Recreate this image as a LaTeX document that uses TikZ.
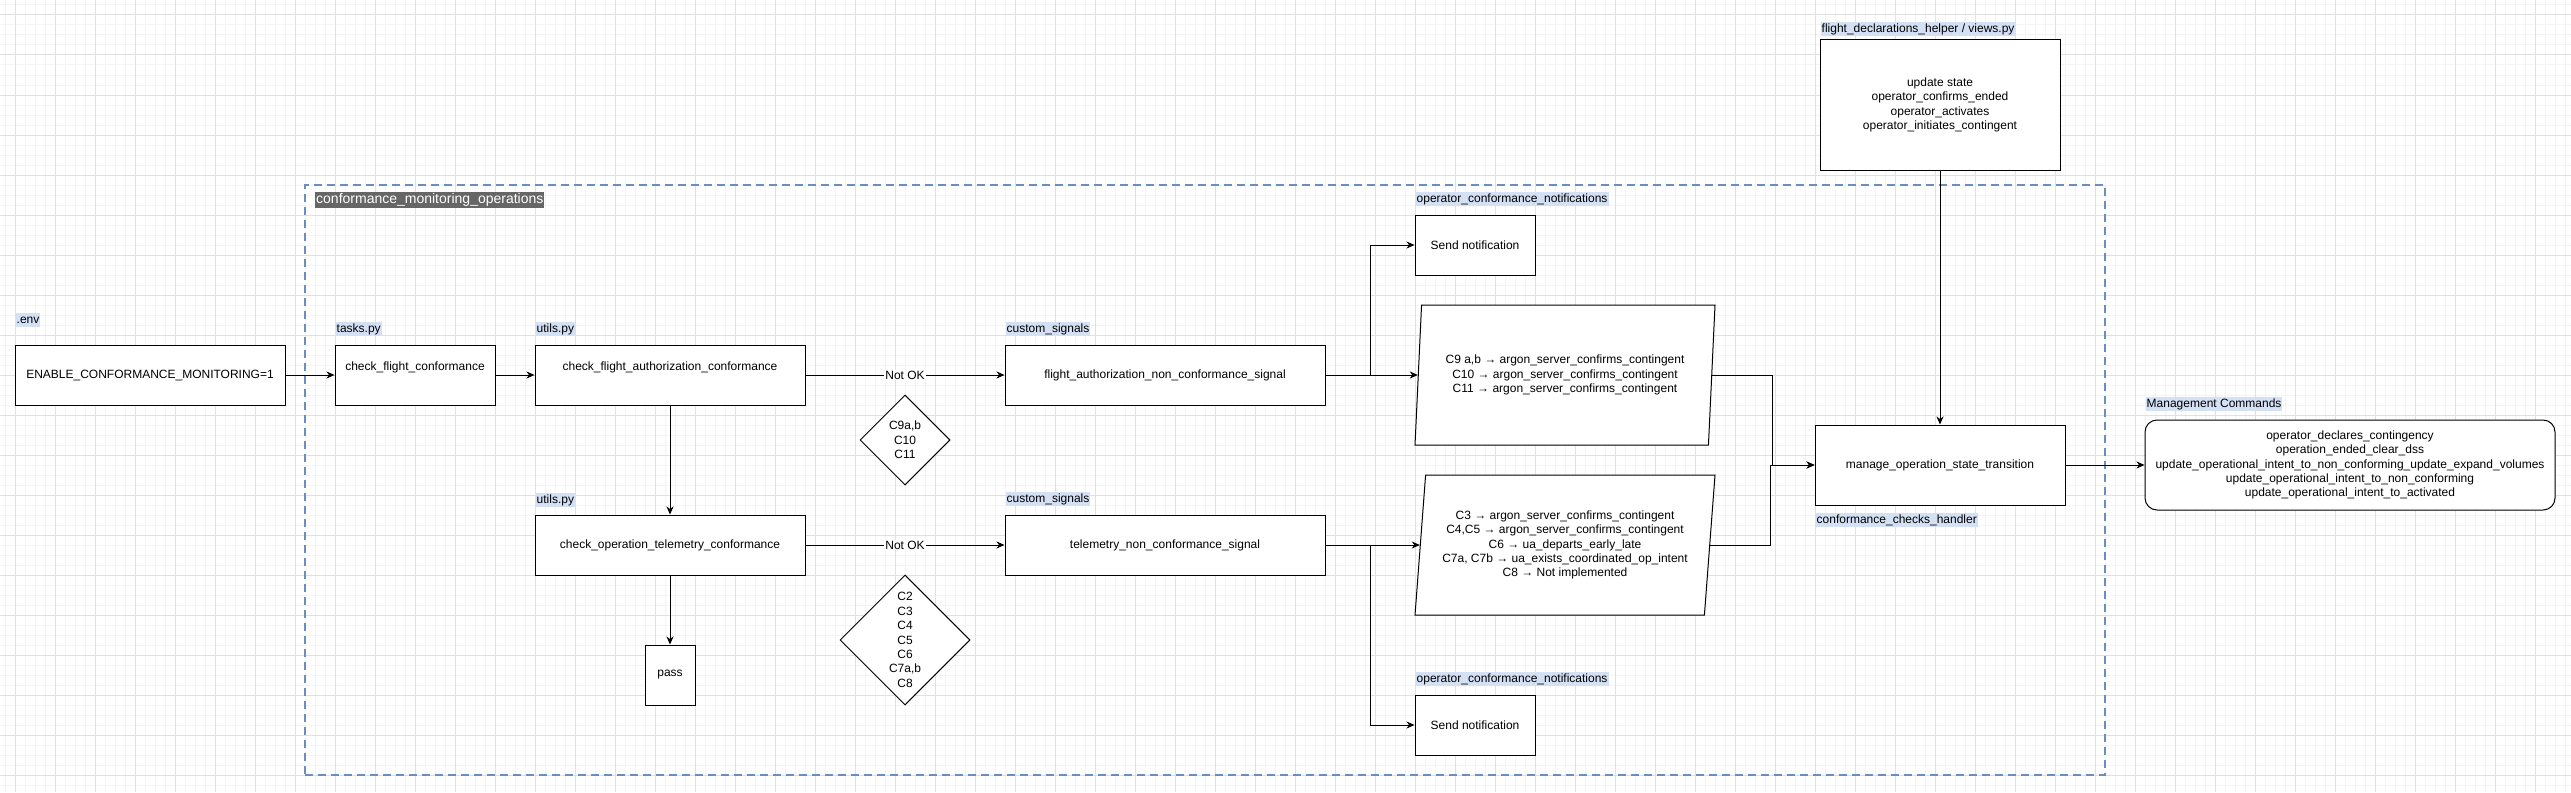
\documentclass[tikz,border=0pt]{standalone}
\usepackage{fontspec}
\setmainfont{Liberation Sans}
\usetikzlibrary{arrows.meta,positioning,shapes.geometric}

\definecolor{tagblue}{HTML}{D4E1F5}
\definecolor{frameblue}{HTML}{6C8EBF}
\definecolor{tagdark}{HTML}{666666}
\definecolor{gridmajor}{gray}{0.88}
\definecolor{gridminor}{gray}{0.955}

\begin{document}
\begin{tikzpicture}[x=1pt,y=-1pt,
	font=\fontsize{12}{14.4}\selectfont,
	box/.style={draw, fill=white, line width=1pt, minimum height=60pt, align=center, inner sep=2pt},
	uptext/.style={text depth=17pt},
	tag/.style={fill=tagblue, inner xsep=1pt, inner ysep=1.5pt, text height=9pt, text depth=2.5pt},
	cond/.style={draw, fill=white, line width=1pt, diamond, aspect=1, inner sep=0pt, align=center},
	slant/.style={draw, fill=white, line width=1pt, trapezium, trapezium left angle=82, trapezium right angle=98,
		trapezium stretches body, minimum width=300pt, minimum height=140pt, align=center},
	arr/.style={line width=1pt, -{Stealth[length=8pt,width=7pt,inset=2.5pt]}},
	lbl/.style={fill=white, inner sep=1pt}]

	% page and grid
	\useasboundingbox (0,0) rectangle (2571,792);
	\fill[white] (0,0) rectangle (2571,792);
	\foreach \gx in {5,15,...,2565} \draw[gridminor, line width=1pt] (\gx,0) -- (\gx,792);
	\foreach \gy in {5,15,...,785} \draw[gridminor, line width=1pt] (0,\gy) -- (2571,\gy);
	\foreach \gx in {15,55,...,2555} \draw[gridmajor, line width=1pt] (\gx,0) -- (\gx,792);
	\foreach \gy in {15,55,...,775} \draw[gridmajor, line width=1pt] (0,\gy) -- (2571,\gy);

	% container
	\node [draw=frameblue, line width=2pt, dash pattern=on 8pt off 5pt, minimum width=1800pt, minimum height=590pt] (cmo) at (1205,480) {};
	\node [fill=tagdark, text=white, font=\fontsize{14}{16}\selectfont, inner xsep=1pt, inner ysep=1pt,
		text height=10.5pt, text depth=3.5pt, below right=8pt and 11pt of cmo.north west] (cmotag) {conformance\_monitoring\_operations};

	% checks
	\node [box, minimum width=270pt] (env) at (150,375) {ENABLE\_CONFORMANCE\_MONITORING=1};
	\node [tag, above right=17pt and 1pt of env.north west] (envtag) {.env};

	\node [box, uptext, minimum width=160pt] (tasks) at (415,375) {check\_flight\_conformance};
	\node [tag, above right=8pt and 1pt of tasks.north west] (taskstag) {tasks.py};

	\node [box, uptext, minimum width=270pt] (auth) at (670,375) {check\_flight\_authorization\_conformance};
	\node [tag, above right=8pt and 1pt of auth.north west] (authtag) {utils.py};

	\node [box, minimum width=270pt] (telcheck) at (670,545) {check\_operation\_telemetry\_conformance};
	\node [tag, above right=7pt and 1pt of telcheck.north west] (teltag) {utils.py};

	\node [box, minimum width=50pt] (pass) at (670,675) {pass};

	\node [cond, minimum size=90pt] (dia1) at (905,440) {C9a,b\\C10\\C11};
	\node [cond, minimum size=130pt] (dia2) at (905,640) {C2\\C3\\C4\\C5\\C6\\C7a,b\\C8};

	% signals
	\node [box, minimum width=320pt] (sig1) at (1165,375) {flight\_authorization\_non\_conformance\_signal};
	\node [tag, above right=8pt and 1pt of sig1.north west] (sig1tag) {custom\_signals};

	\node [box, minimum width=320pt] (sig2) at (1165,545) {telemetry\_non\_conformance\_signal};
	\node [tag, above right=8pt and 1pt of sig2.north west] (sig2tag) {custom\_signals};

	\node [box, minimum width=120pt] (note1) at (1475,245) {Send notification};
	\node [tag, above right=8pt and 1pt of note1.north west] (note1tag) {operator\_conformance\_notifications};

	\node [box, minimum width=120pt] (note2) at (1475,725) {Send notification};
	\node [tag, above right=8pt and 1pt of note2.north west] (note2tag) {operator\_conformance\_notifications};

	\node [slant] (p1) at (1565,375) {C9 a,b → argon\_server\_confirms\_contingent\\
		C10 → argon\_server\_confirms\_contingent\\
		C11 → argon\_server\_confirms\_contingent};
	\node [slant] (p2) at (1565,545) {C3 → argon\_server\_confirms\_contingent\\
		C4,C5 → argon\_server\_confirms\_contingent\\
		C6 → ua\_departs\_early\_late\\
		C7a, C7b → ua\_exists\_coordinated\_op\_intent\\
		C8 → Not implemented};

	% state handling
	\node [box, minimum width=250pt, minimum height=80pt] (manage) at (1940,465) {manage\_operation\_state\_transition};
	\node [tag, below right=7pt and 1pt of manage.south west] (managetag) {conformance\_checks\_handler};

	\node [box, minimum width=240pt, minimum height=130pt] (views) at (1940,105) {update state\\
		operator\_confirms\_ended\\
		operator\_activates\\
		operator\_initiates\_contingent};
	\node [tag, above right=3pt and 1pt of views.north west] (viewstag) {flight\_declarations\_helper / views.py};

	\node [box, rounded corners=12pt, minimum width=410pt, minimum height=90pt] (mgmt) at (2350,465) {operator\_declares\_contingency\\
		operation\_ended\_clear\_dss\\
		update\_operational\_intent\_to\_non\_conforming\_update\_expand\_volumes\\
		update\_operational\_intent\_to\_non\_conforming\\
		update\_operational\_intent\_to\_activated};
	\node [tag, above right=8pt and 1pt of mgmt.north west] (mgmttag) {Management Commands};

	% connectors
	\draw [arr] (env) -- (tasks);
	\draw [arr] (tasks) -- (auth);
	\draw [arr] (auth) -- (telcheck);
	\draw [arr] (telcheck) -- (pass);
	\draw [arr] (auth) -- node [lbl] {Not OK} (sig1);
	\draw [arr] (telcheck) -- node [lbl] {Not OK} (sig2);
	\draw [arr] (sig1) -- (p1.left side);
	\draw [arr] (sig1.east) -- ++(45,0) |- (note1);
	\draw [arr] (sig2) -- (p2.left side);
	\draw [arr] (sig2.east) -- ++(45,0) |- (note2);
	\draw [arr] (p1.right side) -- ++(60,0) |- (manage);
	\draw [arr] (p2.right side) -- ++(60,0) |- (manage);
	\draw [arr] (views) -- (manage);
	\draw [arr] (manage) -- (mgmt);
\end{tikzpicture}
\end{document}
